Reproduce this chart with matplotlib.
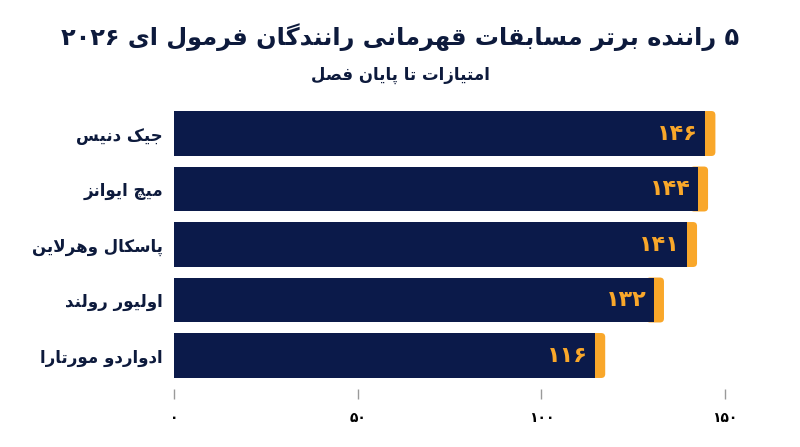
import re
import matplotlib
matplotlib.use("Agg")
import matplotlib.pyplot as plt
from matplotlib.patches import FancyBboxPatch

# data
drivers = ["جیک دنیس", "میچ ایوانز", "پاسکال وهرلاین", "اولیور رولند", "ادواردو مورتارا"]
points = [146, 144, 141, 132, 116]
ticks = [0, 50, 100, 150]
title = "۵ راننده برتر مسابقات قهرمانی رانندگان فرمول ای ۲۰۲۶"
subtitle = "امتیازات تا پایان فصل"

NAVY = "#0b1a4a"
ORANGE = "#f9a72a"
TEXT = "#0d1a3c"

# matplotlib has no arabic shaping, so map letters to presentation forms
# (isolated, final, initial, medial); None = letter does not join forward
FORMS = {
    "ا": ("\uFE8D", "\uFE8E", None, None),
    "ب": ("\uFE8F", "\uFE90", "\uFE91", "\uFE92"),
    "پ": ("\uFB56", "\uFB57", "\uFB58", "\uFB59"),
    "ت": ("\uFE95", "\uFE96", "\uFE97", "\uFE98"),
    "ج": ("\uFE9D", "\uFE9E", "\uFE9F", "\uFEA0"),
    "چ": ("\uFB7A", "\uFB7B", "\uFB7C", "\uFB7D"),
    "د": ("\uFEA9", "\uFEAA", None, None),
    "ر": ("\uFEAD", "\uFEAE", None, None),
    "ز": ("\uFEAF", "\uFEB0", None, None),
    "س": ("\uFEB1", "\uFEB2", "\uFEB3", "\uFEB4"),
    "ص": ("\uFEB9", "\uFEBA", "\uFEBB", "\uFEBC"),
    "ف": ("\uFED1", "\uFED2", "\uFED3", "\uFED4"),
    "ق": ("\uFED5", "\uFED6", "\uFED7", "\uFED8"),
    "ک": ("\uFB8E", "\uFB8F", "\uFB90", "\uFB91"),
    "گ": ("\uFB92", "\uFB93", "\uFB94", "\uFB95"),
    "ل": ("\uFEDD", "\uFEDE", "\uFEDF", "\uFEE0"),
    "م": ("\uFEE1", "\uFEE2", "\uFEE3", "\uFEE4"),
    "ن": ("\uFEE5", "\uFEE6", "\uFEE7", "\uFEE8"),
    "ه": ("\uFEE9", "\uFEEA", "\uFEEB", "\uFEEC"),
    "و": ("\uFEED", "\uFEEE", None, None),
    "ی": ("\uFBFC", "\uFBFD", "\uFBFE", "\uFBFF"),
    "لا": ("\uFEFB", "\uFEFC", None, None),
}


def shape(text):
    items = []
    i = 0
    while i < len(text):
        if text[i] == "ل" and i + 1 < len(text) and text[i + 1] == "ا":
            items.append("لا")
            i += 2
        else:
            items.append(text[i])
            i += 1

    def joins_next(c):
        return c in FORMS and FORMS[c][2] is not None

    out = []
    for k, c in enumerate(items):
        if c not in FORMS:
            out.append(c)
            continue
        prev = items[k - 1] if k > 0 else None
        nxt = items[k + 1] if k + 1 < len(items) else None
        a = prev is not None and joins_next(prev)
        b = joins_next(c) and nxt in FORMS
        iso, fin, ini, med = FORMS[c]
        if a and b:
            out.append(med)
        elif a:
            out.append(fin)
        elif b:
            out.append(ini)
        else:
            out.append(iso)
    s = "".join(out)[::-1]
    return re.sub(r"[0-9\u06F0-\u06F9]+", lambda m: m.group(0)[::-1], s)


def fa(n):
    return str(n).translate(str.maketrans("0123456789", "۰۱۲۳۴۵۶۷۸۹"))


plt.rcParams["font.family"] = ["DejaVu Sans"]
plt.rcParams["font.weight"] = "bold"

fig = plt.figure(figsize=(8, 4.47), dpi=100)
ax = fig.add_axes([0.2175, 0.1426, 0.7346, 0.6208])

ypos = list(range(len(points)))
ax.set_xlim(0, 160)
ax.set_ylim(len(points) - 0.5, -0.5)

h = 0.81
for y, v in zip(ypos, points):
    cap = FancyBboxPatch((v - 3.5, y - h / 2), 4.9, h,
                         boxstyle="round,pad=0,rounding_size=1.1",
                         mutation_aspect=0.066, fc=ORANGE, ec="none", zorder=2)
    ax.add_patch(cap)
ax.barh(ypos, [v - 1.3 for v in points], height=h, color=NAVY, zorder=3)

for y, v in zip(ypos, points):
    ax.text(v - 3.4, y, fa(v), color=ORANGE, ha="right", va="center",
            fontsize=16, fontweight="bold", zorder=4)

ax.set_yticks(ypos)
ax.set_yticklabels([shape(d) for d in drivers], fontsize=12, color=TEXT)
ax.tick_params(axis="y", length=0, pad=8)

ax.set_xticks(ticks)
ax.set_xticklabels([fa(t) for t in ticks], fontsize=13, color=TEXT)
ax.tick_params(axis="x", length=7, width=1, color="#9a9a9a", pad=9)
ax.spines["bottom"].set_position(("outward", 4))
for s in ax.spines.values():
    s.set_visible(False)

fig.text(0.5, 0.917, shape(title), ha="center", va="center",
         fontsize=17.3, fontweight="bold", color=TEXT)
fig.text(0.5, 0.832, shape(subtitle), ha="center", va="center",
         fontsize=12, fontweight="bold", color=TEXT)

fig.savefig("out.png", dpi=100, facecolor="white")
